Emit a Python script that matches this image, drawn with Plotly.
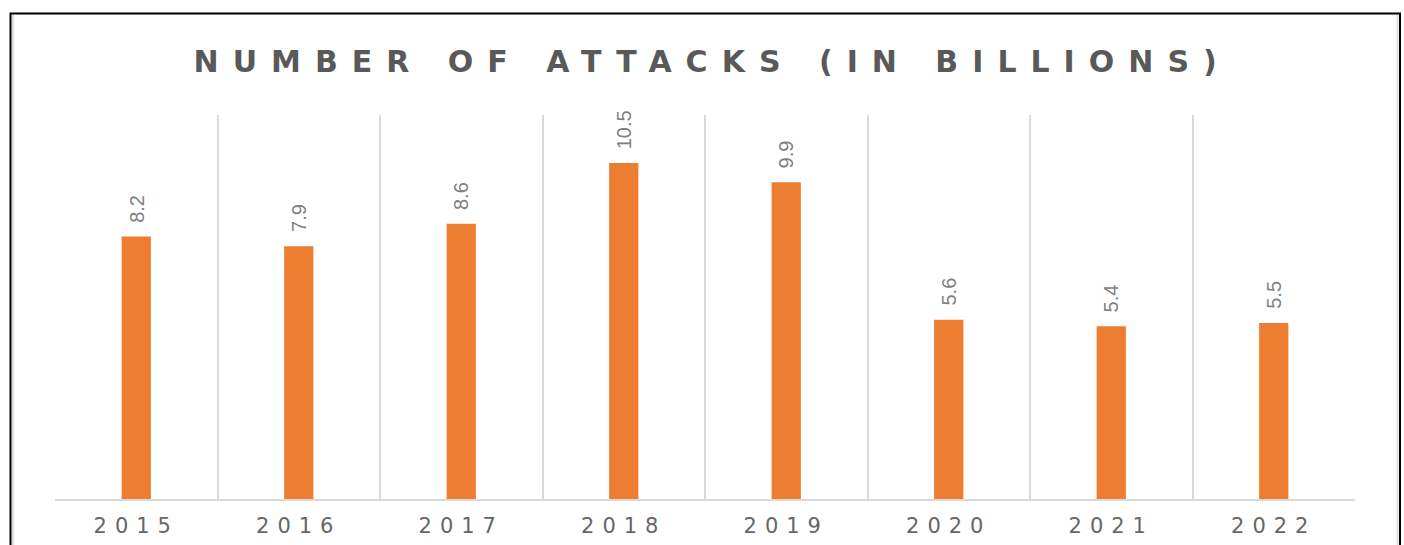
import plotly.graph_objects as go

years = ["2015", "2016", "2017", "2018", "2019", "2020", "2021", "2022"]
attacks = [8.2, 7.9, 8.6, 10.5, 9.9, 5.6, 5.4, 5.5]
title_text = "NUMBER OF ATTACKS (IN BILLIONS)"

ORANGE = "#ED7D31"
GRID = "#D9D9D9"

fig = go.Figure()
fig.add_trace(go.Bar(
    x=years, y=attacks,
    marker=dict(color=ORANGE, line=dict(width=0)),
    hoverinfo="x+y",
))

# value labels; x given as category index (numeric-looking names would be read as indices)
for i, v in enumerate(attacks):
    fig.add_annotation(
        x=i, y=v, xref="x", yref="y",
        text=f"{v:.1f}", textangle=-90, showarrow=False,
        yanchor="bottom", xanchor="center", yshift=12,
        font=dict(family="Liberation Sans Narrow, Arial Narrow, Liberation Sans, sans-serif",
                  size=20, color="#808080"),
    )

fig.update_layout(
    width=1404, height=545,
    margin=dict(l=55, r=49, t=115, b=46, autoexpand=False),
    paper_bgcolor="white", plot_bgcolor="white",
    showlegend=False,
    bargap=0.82,
    title=dict(
        text=f'<span style="letter-spacing:14px">{title_text}</span>',
        xref="paper", x=0.5055, xanchor="center",
        yref="container", y=1 - 61 / 545, yanchor="middle",
        font=dict(family="DejaVu Sans, sans-serif", size=30, color="#595959", weight="bold"),
    ),
    xaxis=dict(
        type="category",
        range=[-0.5, len(years) - 0.5],
        tickmode="array", tickvals=list(range(len(years))),
        ticktext=[f'<span style="letter-spacing:8px">{y}</span>' for y in years],
        tickangle=0, automargin=False,
        tickson="boundaries",
        showgrid=True, gridcolor=GRID, gridwidth=2,
        showline=True, linecolor=GRID, linewidth=2,
        ticks="", ticklabelstandoff=7,
        tickfont=dict(family="DejaVu Sans, sans-serif", size=21, color="#666666"),
        zeroline=False, fixedrange=True,
    ),
    yaxis=dict(
        range=[0, 12], visible=False, showgrid=False, zeroline=False, fixedrange=True,
    ),
)

# outer frame of the picture
W, H = 1300.0, 384.0
def px(xp):
    return (xp - 55) / W
def py(yp):
    return (499 - yp) / H

fig.add_shape(type="rect", xref="paper", yref="paper",
              x0=px(10.5), x1=px(1400), y0=py(560), y1=py(13.5),
              line=dict(color="black", width=2), fillcolor="rgba(0,0,0,0)", layer="above")
fig.add_shape(type="line", xref="paper", yref="paper",
              x0=px(13), x1=px(13), y0=py(560), y1=py(15),
              line=dict(color="#DDDDDD", width=2))
fig.add_shape(type="line", xref="paper", yref="paper",
              x0=px(1397.5), x1=px(1397.5), y0=py(560), y1=py(15),
              line=dict(color="#DDDDDD", width=2))

fig.write_html("out.html")
